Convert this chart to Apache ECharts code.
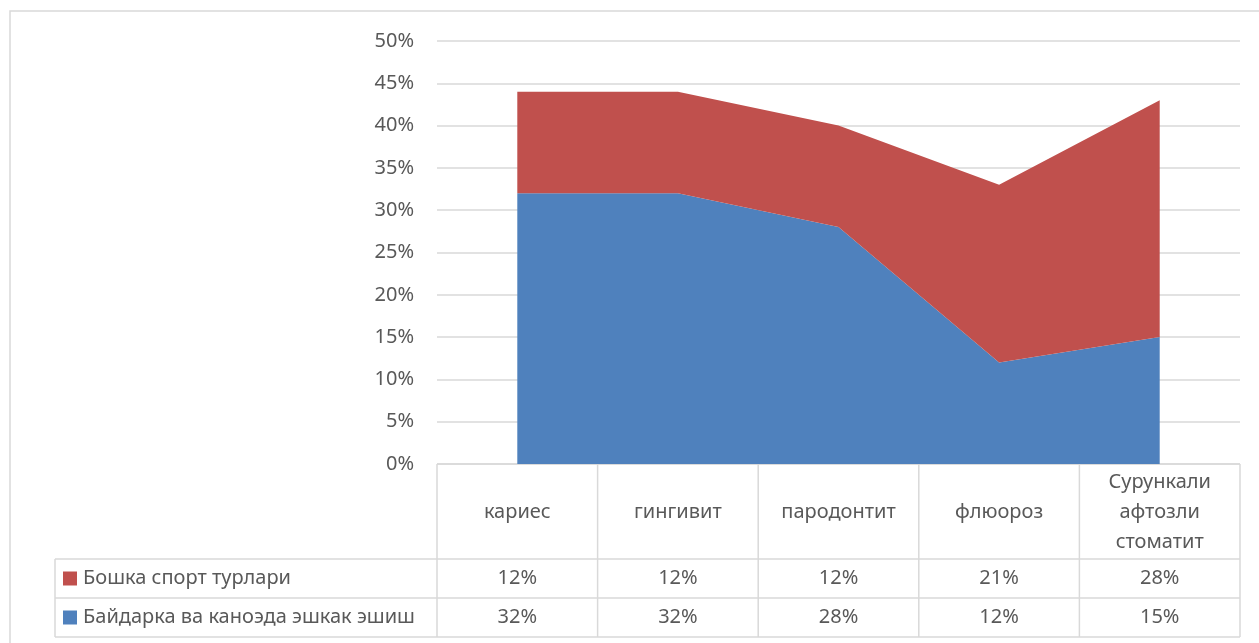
<!DOCTYPE html>
<html>
<head>
<meta charset="utf-8">
<script src="https://cdn.jsdelivr.net/npm/echarts@6/dist/echarts.min.js"></script>
<style>
  html, body { margin: 0; padding: 0; background: #fff; }
  #main { width: 1259px; height: 643px; }
</style>
</head>
<body>
<div id="main"></div>
<script>
// categories (table header) and series values, in percent
var categories = ['кариес', 'гингивит', 'пародонтит', 'флюороз', 'Сурункали\nафтозли\nстоматит'];
var kayakName = 'Байдарка ва каноэда эшкак эшиш';
var kayakValues = [32, 32, 28, 12, 15];
var otherName = 'Бошка спорт турлари';
var otherValues = [12, 12, 12, 21, 28];
var yTicks = { min: 0, max: 50, interval: 5 };

var BLUE = '#4F81BD';
var RED = '#C0504D';
var GRID = '#D9D9D9';
var TEXT = '#595959';
var FONT = 'Noto Sans';
var FS = 20;

var chart = echarts.init(document.getElementById('main'));

var option = {
  animation: false,
  textStyle: { fontFamily: FONT },
  grid: { left: 437, right: 19, top: 41, bottom: 179 },
  xAxis: {
    type: 'category',
    data: categories,
    boundaryGap: true,
    axisLine: { show: false },
    axisTick: { show: false },
    axisLabel: { show: false }
  },
  yAxis: {
    type: 'value',
    min: yTicks.min,
    max: yTicks.max,
    interval: yTicks.interval,
    axisLine: { show: false },
    axisTick: { show: false },
    axisLabel: { formatter: '{value}%', color: TEXT, fontSize: FS, margin: 23, fontFamily: FONT },
    splitLine: { lineStyle: { color: GRID, width: 1.5 } }
  },
  series: [
    {
      name: kayakName,
      type: 'line',
      stack: 'total',
      data: kayakValues,
      symbol: 'none',
      lineStyle: { width: 0 },
      areaStyle: { color: BLUE, opacity: 1 },
      itemStyle: { color: BLUE }
    },
    {
      name: otherName,
      type: 'line',
      stack: 'total',
      data: otherValues,
      symbol: 'none',
      lineStyle: { width: 0 },
      areaStyle: { color: RED, opacity: 1 },
      itemStyle: { color: RED }
    }
  ]
};
chart.setOption(option);

// data table under the plot, laid out from the category axis
var x0 = 437, x1 = 1240;
var tableTop = 464, headBottom = 559, rowMid = 598, tableBottom = 637;
var legendLeft = 55;
var step = chart.convertToPixel({ xAxisIndex: 0 }, 1) - chart.convertToPixel({ xAxisIndex: 0 }, 0);
var lineStyle = { stroke: GRID, lineWidth: 1.5 };
var font = FS + 'px "' + FONT + '"';
var g = [];

function hline(xa, xb, y) {
  g.push({ type: 'line', shape: { x1: xa, y1: y, x2: xb, y2: y }, style: lineStyle, silent: true });
}
function vline(x, ya, yb) {
  g.push({ type: 'line', shape: { x1: x, y1: ya, x2: x, y2: yb }, style: lineStyle, silent: true });
}

// outer chart border
g.push({ type: 'rect', shape: { x: 10, y: 11, width: 1270, height: 660 }, style: { fill: null, stroke: GRID, lineWidth: 1.5 }, silent: true });

hline(x0, x1, tableTop);
hline(legendLeft, x1, headBottom);
hline(legendLeft, x1, rowMid);
hline(legendLeft, x1, tableBottom);
vline(legendLeft, headBottom, tableBottom);
vline(x0, tableTop, tableBottom);
for (var i = 0; i < categories.length; i++) {
  var cx = chart.convertToPixel({ xAxisIndex: 0 }, i);
  vline(cx + step / 2, tableTop, tableBottom);
  g.push({ type: 'text', x: cx, y: (tableTop + headBottom) / 2 + 1,
    style: { text: categories[i], fill: TEXT, font: font, align: 'center', verticalAlign: 'middle', lineHeight: 30 } });
  g.push({ type: 'text', x: cx, y: (headBottom + rowMid) / 2,
    style: { text: otherValues[i] + '%', fill: TEXT, font: font, align: 'center', verticalAlign: 'middle' } });
  g.push({ type: 'text', x: cx, y: (rowMid + tableBottom) / 2,
    style: { text: kayakValues[i] + '%', fill: TEXT, font: font, align: 'center', verticalAlign: 'middle' } });
}

// legend keys in the first column
var rows = [[otherName, RED, (headBottom + rowMid) / 2], [kayakName, BLUE, (rowMid + tableBottom) / 2]];
rows.forEach(function (r) {
  g.push({ type: 'rect', shape: { x: 63, y: r[2] - 7, width: 14, height: 14 }, style: { fill: r[1] } });
  g.push({ type: 'text', x: 83, y: r[2], style: { text: r[0], fill: TEXT, font: font, align: 'left', verticalAlign: 'middle' } });
});

chart.setOption({ graphic: { elements: g } });
</script>
</body>
</html>
